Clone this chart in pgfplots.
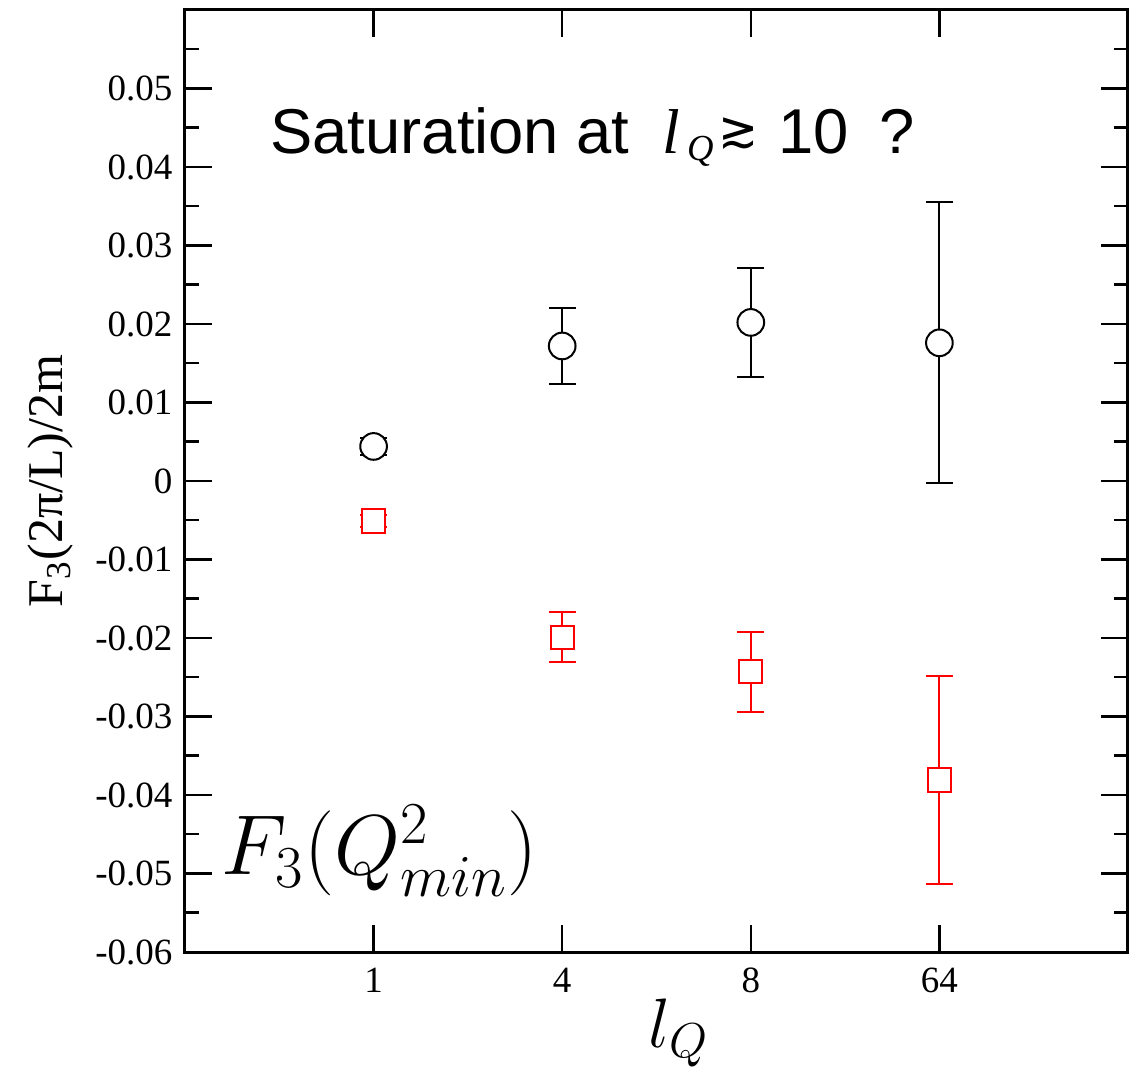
\RequirePackage{fix-cm}
\documentclass[border=0pt]{standalone}
\usepackage{amsmath,amssymb}
\usepackage[no-math]{fontspec}
\setmainfont{Liberation Serif}
\setsansfont{Liberation Sans}
\newfontfamily\symfont{DejaVu Sans}
\usepackage{graphicx}
\usepackage{pgfplots}
\pgfplotsset{compat=1.18}

\begin{document}
\begin{tikzpicture}
\begin{axis}[
  scale only axis, width=282.9pt, height=282.6pt,
  xmin=0, xmax=5, ymin=-0.06, ymax=0.06,
  xtick={1,2,3,4},
  xticklabels={\textrm{1},\textrm{4},\textrm{8},\textrm{64}},
  ytick={-0.06,-0.05,-0.04,-0.03,-0.02,-0.01,0,0.01,0.02,0.03,0.04,0.05},
  yticklabels={\textrm{-0.06},\textrm{-0.05},\textrm{-0.04},\textrm{-0.03},\textrm{-0.02},\textrm{-0.01},
               \textrm{0},\textrm{0.01},\textrm{0.02},\textrm{0.03},\textrm{0.04},\textrm{0.05}},
  minor ytick={-0.055,-0.045,-0.035,-0.025,-0.015,-0.005,0.005,0.015,0.025,0.035,0.045,0.055},
  scaled y ticks=false,
  tick align=inside, xtick pos=both, ytick pos=both,
  major tick length=8.1pt, minor tick length=4.2pt,
  every tick/.style={black, line width=0.75pt},
  axis line style={line width=0.9pt},
  ticklabel style={font=\rmfamily\fontsize{11.1}{13}\selectfont},
  yticklabel style={inner sep=0pt, xshift=-3.6pt},
  xticklabel style={inner sep=0pt, yshift=-4.5pt},
  clip=false,
]
\coordinate (sw) at (rel axis cs:0,0);

% F3 at the smallest momentum transfer, positive branch
\addplot[black, line width=0.6pt, only marks, mark=*, mark size=4pt,
  mark options={fill=white, draw=black},
  error bars/.cd, y dir=both, y explicit,
  error bar style={line width=0.6pt},
  error mark options={rotate=90, mark size=4pt, line width=0.6pt}]
  coordinates {
    (1, 0.0044) +- (0, 0.0011)
    (2, 0.0172) +- (0, 0.0048)
    (3, 0.0202) +- (0, 0.0069)
    (4, 0.0176) +- (0, 0.0179)
  };

% negative branch
\addplot[red, line width=0.6pt, only marks, mark=square*, mark size=3.5pt,
  mark options={fill=white, draw=red},
  error bars/.cd, y dir=both, y explicit,
  error bar style={line width=0.6pt},
  error mark options={rotate=90, mark size=4pt, line width=0.6pt}]
  coordinates {
    (1, -0.0051) +- (0, 0.0008)
    (2, -0.0199) +- (0, 0.0032)
    (3, -0.0243) +- (0, 0.0051)
    (4, -0.0381) +- (0, 0.0132)
  };

\node[anchor=base west, inner sep=0pt] at (rel axis cs:0.090,0.848)
  {\fontsize{19}{23}\selectfont\sffamily Saturation at\hspace{10pt}%
   {\rmfamily\itshape l}\hspace{2pt}%
   \raisebox{-2.2pt}{\rmfamily\itshape\fontsize{11}{13}\selectfont Q}\hspace{1.5pt}%
   \raisebox{1.2pt}{\resizebox*{12pt}{9.5pt}{\raisebox{\depth}{\symfont ≳}}}\hspace{6pt}%
   10\hspace{9pt}?};

\node[anchor=base west, inner sep=0pt, font=\fontsize{25.5}{30}\selectfont]
  at (rel axis cs:0.038,0.082) {$F_3(Q^2_{min})$};

\node[anchor=base west, inner sep=0pt, yshift=-28.5pt, font=\fontsize{21}{25}\selectfont]
  at (rel axis cs:0.491,0) {$l_Q$};

\node[xshift=-36.6pt, rotate=90, anchor=base, inner sep=0pt, font=\fontsize{15}{18}\selectfont]
  at (rel axis cs:0,0.5) {F\textsubscript{3}(2π/L)/2m};
\end{axis}
\pgfresetboundingbox
\path (sw) ++(-55.5pt,-36pt) rectangle ++(340.5pt,321.6pt);
\end{tikzpicture}
\end{document}
